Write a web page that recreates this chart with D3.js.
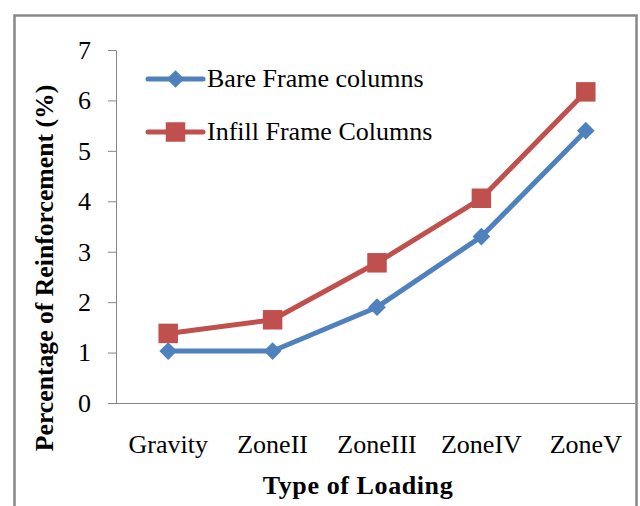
<!DOCTYPE html>
<html>
<head>
<meta charset="utf-8">
<script src="https://cdn.jsdelivr.net/npm/d3@7"></script>
<style>
  html, body { margin: 0; padding: 0; background: #fff; }
  svg { display: block; }
  text { font-family: "Liberation Serif", "Times New Roman", serif; fill: #000; }
</style>
</head>
<body>
<svg id="chart" width="640" height="506"></svg>
<script>
// Reinforcement percentage by loading type
const categories = ["Gravity", "ZoneII", "ZoneIII", "ZoneIV", "ZoneV"];
const bareFrame = [1.03, 1.03, 1.90, 3.30, 5.40];
const infillFrame = [1.38, 1.65, 2.78, 4.06, 6.17];
const yTicks = [0, 1, 2, 3, 4, 5, 6, 7];
const seriesNames = ["Bare Frame columns", "Infill Frame Columns"];

const svg = d3.select("#chart");

// outer frame
svg.append("rect")
  .attr("x", 14.5).attr("y", 15.5)
  .attr("width", 622).attr("height", 520)
  .attr("fill", "none").attr("stroke", "#888").attr("stroke-width", 2.5);

const plot = { left: 116, right: 638, top: 50, bottom: 403 };

const x = d3.scaleBand().domain(categories).range([plot.left, plot.right]);
const y = d3.scaleLinear().domain([0, 7]).range([plot.bottom, plot.top]);

// y axis
const yAxis = svg.append("g")
  .attr("transform", `translate(${plot.left},0)`)
  .call(d3.axisLeft(y).tickValues(yTicks).tickFormat(d3.format("d"))
    .tickSize(8).tickSizeOuter(0).tickPadding(17));
yAxis.select(".domain").attr("stroke", "#868686");
yAxis.selectAll(".tick line").attr("stroke", "#868686");
yAxis.selectAll(".tick text")
  .attr("font-size", 26).attr("font-family", "Liberation Serif").attr("fill", "#000");

// x axis
const xAxis = svg.append("g")
  .attr("transform", `translate(0,${plot.bottom})`)
  .call(d3.axisBottom(x).tickSize(0).tickSizeOuter(0).tickPadding(32));
xAxis.select(".domain").attr("stroke", "#868686").attr("d", `M${plot.left - 8},0.5H${plot.right - 3}`);
xAxis.selectAll(".tick text")
  .attr("font-size", 26).attr("font-family", "Liberation Serif").attr("fill", "#000");

// axis titles
svg.append("text")
  .attr("x", 358).attr("y", 494)
  .attr("text-anchor", "middle")
  .attr("font-size", 26).attr("font-weight", "bold")
  .attr("letter-spacing", 0.6)
  .text("Type of Loading");

svg.append("text")
  .attr("transform", "translate(53,268) rotate(-90)")
  .attr("text-anchor", "middle")
  .attr("font-size", 25.7).attr("font-weight", "bold")
  .text("Percentage of Reinforcement (%)");

const colors = ["#4F81BD", "#C0504D"];
const cx = d => x(d) + x.bandwidth() / 2;
const line = d3.line().x((d, i) => cx(categories[i])).y(d => y(d));

const diamond = d3.symbol().type(d3.symbolDiamond2).size(200);
const square = d3.symbol().type(d3.symbolSquare).size(380);

// series lines
[bareFrame, infillFrame].forEach((vals, s) => {
  svg.append("path")
    .datum(vals)
    .attr("d", line)
    .attr("fill", "none")
    .attr("stroke", colors[s])
    .attr("stroke-width", 5)
    .attr("stroke-linejoin", "round");
});

// markers
svg.append("g").selectAll("path")
  .data(bareFrame)
  .join("path")
  .attr("d", diamond)
  .attr("transform", (d, i) => `translate(${cx(categories[i])},${y(d)})`)
  .attr("fill", colors[0]);

svg.append("g").selectAll("path")
  .data(infillFrame)
  .join("path")
  .attr("d", square)
  .attr("transform", (d, i) => `translate(${cx(categories[i])},${y(d)})`)
  .attr("fill", colors[1]);

// legend
const legend = svg.append("g");
const legendY = [79, 132];
const legendShapes = [diamond, square];
seriesNames.forEach((name, i) => {
  const g = legend.append("g").attr("transform", `translate(0,${legendY[i]})`);
  g.append("line")
    .attr("x1", 148).attr("x2", 203)
    .attr("stroke", colors[i]).attr("stroke-width", 5).attr("stroke-linecap", "round");
  g.append("path")
    .attr("d", legendShapes[i])
    .attr("transform", "translate(175.5,0)")
    .attr("fill", colors[i]);
  g.append("text")
    .attr("x", 207).attr("y", 8)
    .attr("font-size", 26)
    .text(name);
});
</script>
</body>
</html>
